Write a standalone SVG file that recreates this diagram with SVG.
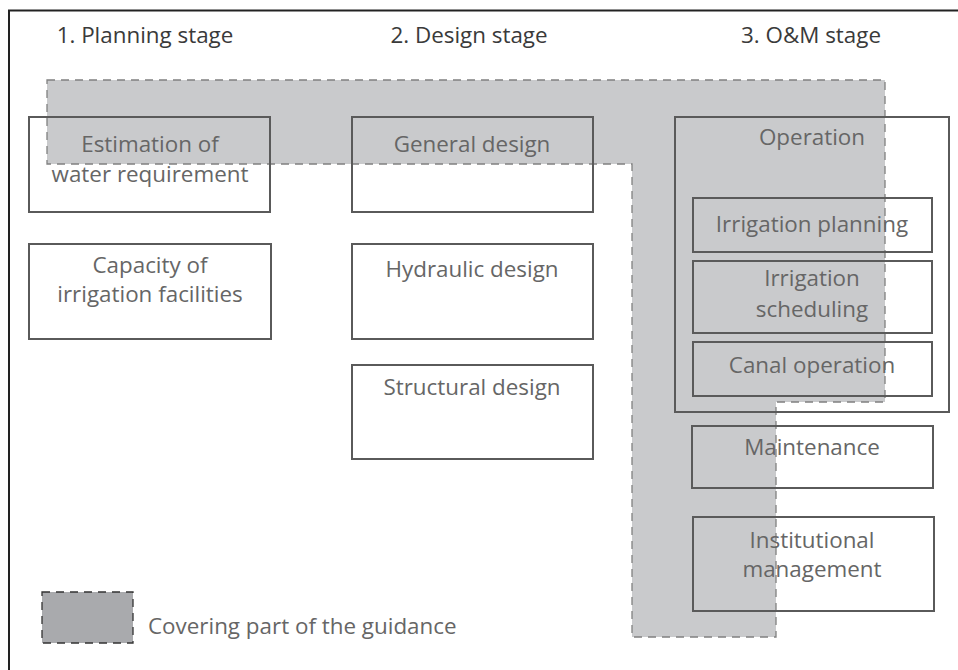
<svg xmlns="http://www.w3.org/2000/svg" width="958" height="670" viewBox="0 0 958 670">
<style>
.box{fill:none;stroke:#5a5a5a;stroke-width:2}
.t{font-family:"Open Sans","Noto Sans",sans-serif;font-size:22.4px;fill:#666;text-anchor:middle}
.h{font-family:"Open Sans","Noto Sans",sans-serif;font-size:22.4px;fill:#3a3a3a;text-anchor:middle}
</style>
<rect width="958" height="670" fill="#fff"/>
<path d="M9,700 V10.5 H980" fill="none" stroke="#222" stroke-width="2"/>
<g id="cover">
<polygon points="47,80 885,80 885,402 776,402 776,637 632,637 632,164 47,164" fill="#c9cacc" stroke="#808080" stroke-width="1.3" stroke-dasharray="8,6"/>
</g>
<g id="headings">
<text class="h" x="145" y="43">1. Planning stage</text>
<text class="h" x="469" y="43">2. Design stage</text>
<text class="h" x="811" y="43">3. O&amp;M stage</text>
</g>
<g id="estimation"><rect class="box" x="29" y="117" width="241" height="95"/><text class="t" x="150" y="152">Estimation of</text><text class="t" x="150" y="182">water requirement</text></g>
<g id="capacity"><rect class="box" x="29" y="244" width="242" height="95"/><text class="t" x="150" y="273">Capacity of</text><text class="t" x="150" y="302">irrigation facilities</text></g>
<g id="general"><rect class="box" x="352" y="117" width="241" height="95"/><text class="t" x="472" y="152">General design</text></g>
<g id="hydraulic"><rect class="box" x="352" y="244" width="241" height="95"/><text class="t" x="472" y="277">Hydraulic design</text></g>
<g id="structural"><rect class="box" x="352" y="365" width="241" height="94"/><text class="t" x="472" y="395">Structural design</text></g>
<g id="operation"><rect class="box" x="675" y="117" width="274" height="295"/><text class="t" x="812" y="145">Operation</text></g>
<g id="irr-planning"><rect class="box" x="693" y="198" width="239" height="54"/><text class="t" x="812" y="232">Irrigation planning</text></g>
<g id="irr-scheduling"><rect class="box" x="693" y="261" width="239" height="72"/><text class="t" x="812" y="286">Irrigation</text><text class="t" x="812" y="317">scheduling</text></g>
<g id="canal"><rect class="box" x="693" y="342" width="239" height="54"/><text class="t" x="812" y="373">Canal operation</text></g>
<g id="maintenance"><rect class="box" x="692" y="426" width="241" height="62"/><text class="t" x="812" y="455">Maintenance</text></g>
<g id="institutional"><rect class="box" x="693" y="517" width="241" height="94"/><text class="t" x="812" y="548">Institutional</text><text class="t" x="812" y="577">management</text></g>
<g id="legend">
<rect x="42" y="592" width="91" height="51" fill="#a9aaad" stroke="#333" stroke-width="1.3" stroke-dasharray="8,6"/>
<text class="t" x="148" y="634" style="text-anchor:start">Covering part of the guidance</text>
</g>
</svg>
